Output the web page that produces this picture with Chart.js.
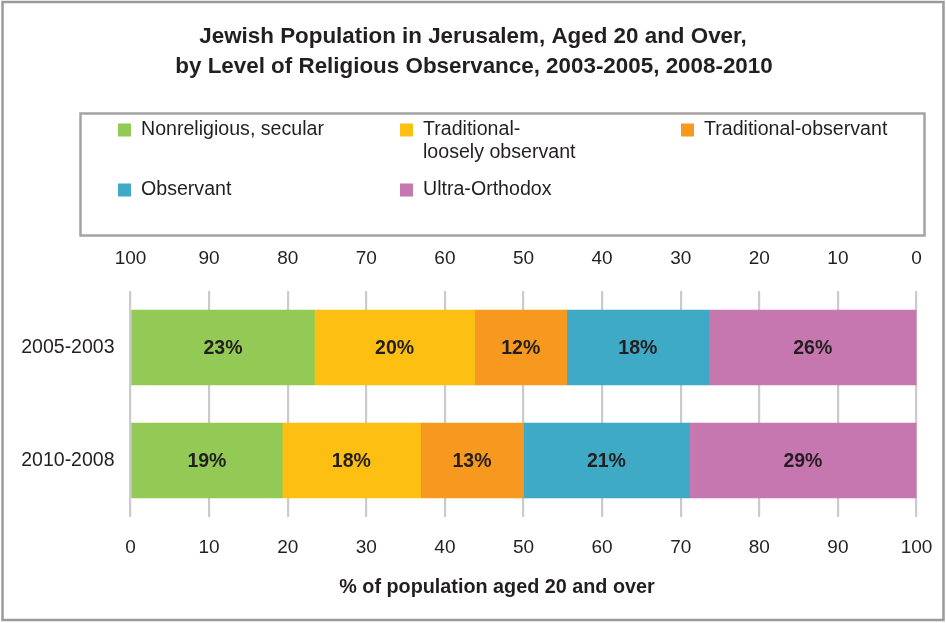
<!DOCTYPE html>
<html>
<head>
<meta charset="utf-8">
<script src="https://cdn.jsdelivr.net/npm/chart.js@4/dist/chart.umd.min.js"></script>
<style>
  html, body { margin:0; padding:0; background:#fff; }
  #wrap { position:relative; width:946px; height:623px; }
</style>
</head>
<body>
<div id="wrap"><canvas id="chart" width="946" height="623"></canvas></div>
<script>
/* ── Data ─────────────────────────────────────────── */
const periods     = ["2005-2003", "2010-2008"];
const seriesNames = ["Nonreligious, secular", "Traditional-loosely observant", "Traditional-observant", "Observant", "Ultra-Orthodox"];
const secular     = [23.4, 19.3];
const loosely     = [20.4, 17.6];
const tradObs     = [11.7, 13.1];
const observant   = [18.1, 21.1];
const ultra       = [26.4, 28.9];
const tickValues  = [0, 10, 20, 30, 40, 50, 60, 70, 80, 90, 100];

const colors = ["#93c955", "#fcbf12", "#f6991e", "#3faac6", "#c677b0"];
const titleLines = ["Jewish Population in Jerusalem, Aged 20 and Over,",
                    "by Level of Religious Observance, 2003-2005, 2008-2010"];
const axisTitle = "% of population aged 20 and over";

// legend layout: [label lines, square x, row y]
const legendItems = [
  {lines:["Nonreligious, secular"],              x:118, y:130, c:0},
  {lines:["Traditional-", "loosely observant"],  x:400, y:130, c:1},
  {lines:["Traditional-observant"],              x:681, y:130, c:2},
  {lines:["Observant"],                          x:118, y:190, c:3},
  {lines:["Ultra-Orthodox"],                     x:400, y:190, c:4}
];

const FONT = "'Liberation Sans', Arial, Helvetica, sans-serif";
const textColor = "#231f20";

/* ── Frame, title, legend, bar labels ─────────────── */
const decorPlugin = {
  id: "decor",
  beforeDraw(chart) {
    const ctx = chart.ctx;
    ctx.save();
    ctx.fillStyle = "#fff";
    ctx.fillRect(0, 0, chart.width, chart.height);
    ctx.strokeStyle = "#9a9a9a";
    ctx.lineWidth = 2.5;
    ctx.strokeRect(2.5, 2, 941, 618);
    ctx.strokeStyle = "#a3a3a3";
    ctx.lineWidth = 2.5;
    ctx.strokeRect(80.5, 113.5, 844, 122);
    ctx.restore();
  },
  afterDraw(chart) {
    const ctx = chart.ctx;
    ctx.save();
    ctx.fillStyle = textColor;
    ctx.textAlign = "center";
    ctx.textBaseline = "middle";
    ctx.font = "bold 22.4px " + FONT;
    ctx.fillText(titleLines[0], 473, 37);
    ctx.fillText(titleLines[1], 474, 67);

    ctx.font = "bold 19.8px " + FONT;
    ctx.fillText(axisTitle, 497, 588);

    ctx.textAlign = "left";
    ctx.font = "19.6px " + FONT;
    legendItems.forEach(it => {
      ctx.fillStyle = colors[it.c];
      ctx.fillRect(it.x, it.y - 6.5, 13, 13);
      ctx.fillStyle = textColor;
      it.lines.forEach((l, i) => ctx.fillText(l, it.x + 23, it.y + i * 23));
    });
    ctx.restore();
  },
  afterDatasetsDraw(chart) {
    const ctx = chart.ctx;
    ctx.save();
    ctx.fillStyle = textColor;
    ctx.font = "bold 19.5px " + FONT;
    ctx.textAlign = "center";
    ctx.textBaseline = "middle";
    chart.data.datasets.forEach((ds, di) => {
      chart.getDatasetMeta(di).data.forEach((bar, i) => {
        const p = bar.getCenterPoint();
        ctx.fillText(Math.round(ds.data[i]) + "%", p.x, p.y + 1);
      });
    });
    ctx.restore();
  }
};

const seriesData = [secular, loosely, tradObs, observant, ultra];

// fixed box sizes so the plot area lands where the reference has it
function fitX(h) {
  return s => { s.height = h; s.paddingLeft = 0; s.paddingRight = 0; };
}

new Chart(document.getElementById("chart").getContext("2d"), {
  type: "bar",
  data: {
    labels: periods,
    datasets: seriesNames.map((name, i) => ({
      label: name,
      data: seriesData[i],
      backgroundColor: colors[i],
      borderWidth: 0,
      barThickness: 75,
      xAxisID: "x",
      stack: "s"
    }))
  },
  options: {
    indexAxis: "y",
    responsive: false,
    animation: false,
    layout: { padding: { top: 240, left: 0, right: 29.5, bottom: 0 } },
    plugins: { legend: { display: false }, title: { display: false }, tooltip: { enabled: false } },
    scales: {
      x: {
        type: "linear", position: "bottom", stacked: true,
        min: 0, max: 100,
        afterBuildTicks: s => { s.ticks = tickValues.map(v => ({ value: v })); },
        grid: { color: "#cbcbcb", lineWidth: 2.2, drawTicks: false },
        border: { display: false },
        ticks: { padding: 19, color: textColor, font: { family: FONT, size: 19 } },
        afterFit: fitX(106)
      },
      xTop: {
        type: "linear", position: "top",
        min: 0, max: 100, reverse: true,
        afterBuildTicks: s => { s.ticks = tickValues.map(v => ({ value: v })); },
        grid: { display: false, drawTicks: false },
        border: { display: false },
        ticks: { padding: 21, color: textColor, font: { family: FONT, size: 19 } },
        afterFit: fitX(51)
      },
      y: {
        stacked: true,
        grid: { display: false, drawTicks: false },
        border: { display: false },
        ticks: { padding: 16, color: textColor, font: { family: FONT, size: 19.5 } },
        afterFit: s => { s.width = 130.5; s.paddingTop = 0; s.paddingBottom = 0; }
      }
    }
  },
  plugins: [decorPlugin]
});
</script>
</body>
</html>
